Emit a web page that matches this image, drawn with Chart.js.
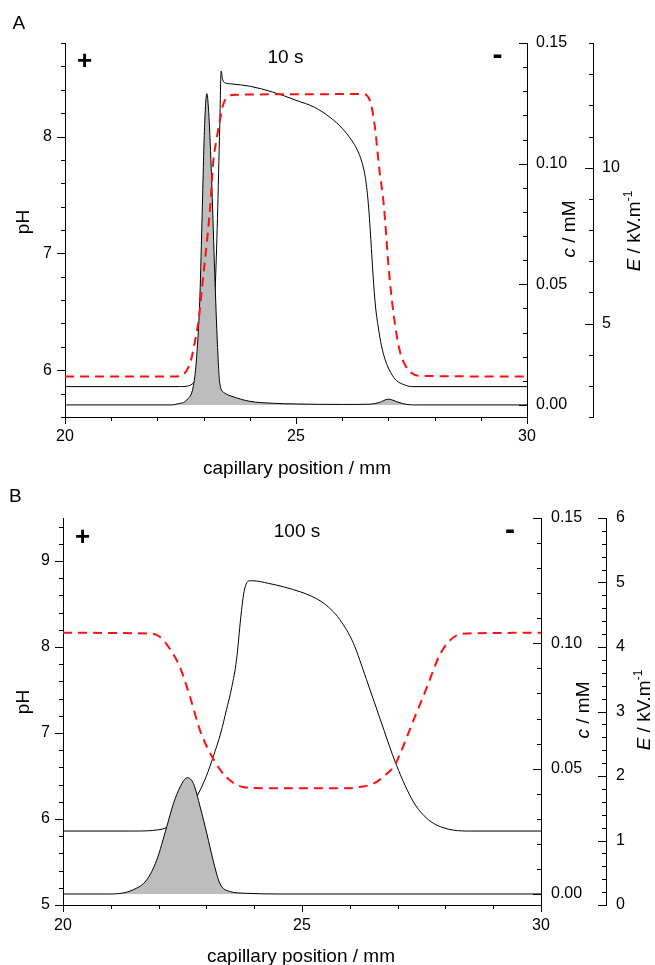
<!DOCTYPE html>
<html>
<head>
<meta charset="utf-8">
<script src="https://cdn.jsdelivr.net/npm/chart.js@4.4.1/dist/chart.umd.min.js"></script>
<style>
html,body{margin:0;padding:0;background:#fff;}
#wrap{position:relative;width:655px;height:965px;overflow:hidden;}
canvas{position:absolute;left:0;}
#cA{top:0;}
#cB{top:480px;}
</style>
</head>
<body>
<div id="wrap">
<canvas id="cA" width="655" height="480" style="width:655px;height:480px"></canvas>
<canvas id="cB" width="655" height="485" style="width:655px;height:485px"></canvas>
</div>
<script>
// ---------- DATA ----------
// Panel A (10 s)
const posA_pH = [20, 22.5, 22.7, 22.8, 22.9, 23.0, 23.1, 23.2, 23.25, 23.3, 23.35, 23.38, 23.41, 23.46, 23.6, 24.0, 24.5, 25.0, 25.4, 25.75, 26.0, 26.2, 26.32, 26.42, 26.5, 26.56, 26.62, 26.67, 26.72, 26.78, 26.85, 26.93, 27.05, 27.18, 27.35, 27.5, 30];
const pH_A    = [5.86, 5.86, 5.87, 5.9, 5.96, 6.05, 6.15, 6.35, 6.69, 7.3, 8.1, 8.56, 8.49, 8.46, 8.45, 8.43, 8.38, 8.31, 8.25, 8.16, 8.07, 7.97, 7.89, 7.79, 7.65, 7.45, 7.12, 6.80, 6.55, 6.37, 6.21, 6.09, 5.98, 5.91, 5.875, 5.86, 5.86];

const posA_E = [20, 22.4, 22.55, 22.71, 22.81, 22.9, 22.97, 23.07, 23.14, 23.21, 23.28, 23.35, 23.43, 23.52, 23.7, 26.45, 26.6, 26.7, 26.8, 26.9, 27.0, 27.05, 27.15, 27.25, 27.35, 27.47, 27.65, 30];
const E_A    = [3.30, 3.30, 3.35, 3.74, 4.4, 5.2, 6.2, 7.6, 8.7, 10.2, 10.9, 11.5, 12.05, 12.28, 12.34, 12.36, 12.15, 11.4, 10.0, 8.8, 6.9, 6.1, 4.9, 4.1, 3.7, 3.45, 3.32, 3.30];

const posA_c = [20, 22.3, 22.45, 22.63, 22.78, 22.85, 22.92, 22.97, 23.02, 23.07, 23.12, 23.18, 23.24, 23.3, 23.35, 23.45, 23.64, 24.0, 24.5, 25.0, 26.0, 26.6, 26.8, 27.0, 27.2, 27.4, 27.6, 30];
const c_A    = [0, 0, 0.0005, 0.002, 0.008, 0.02, 0.045, 0.08, 0.115, 0.129, 0.118, 0.09, 0.055, 0.025, 0.009, 0.005, 0.0034, 0.0015, 0.0007, 0.0004, 0.0002, 0.0003, 0.001, 0.0024, 0.0012, 0.0002, 0, 0];

// Panel B (100 s)
const posB_pH = [20, 21.5, 22.0, 22.17, 22.4, 22.6, 22.8, 23.0, 23.14, 23.3, 23.42, 23.53, 23.63, 23.72, 23.78, 23.83, 23.9, 23.97, 24.3, 24.61, 25.0, 25.2, 25.4, 25.6, 25.79, 26.07, 26.35, 26.63, 26.98, 27.33, 27.55, 27.75, 27.95, 28.17, 28.5, 30];
const pH_B    = [5.86, 5.86, 5.875, 5.9, 5.98, 6.08, 6.26, 6.5, 6.72, 7.0, 7.27, 7.53, 7.85, 8.35, 8.62, 8.73, 8.77, 8.77, 8.74, 8.70, 8.635, 8.59, 8.53, 8.44, 8.32, 8.05, 7.62, 7.17, 6.62, 6.2, 6.04, 5.95, 5.9, 5.87, 5.86, 5.86];

const posB_E = [20, 21.8, 22.0, 22.17, 22.45, 22.66, 22.87, 23.14, 23.42, 23.77, 24.2, 26.0, 26.21, 26.49, 26.77, 26.95, 27.05, 27.33, 27.61, 27.89, 28.17, 28.45, 30];
const E_B    = [4.22, 4.21, 4.17, 4.04, 3.68, 3.22, 2.70, 2.27, 1.98, 1.83, 1.81, 1.81, 1.83, 1.88, 2.03, 2.18, 2.34, 2.86, 3.37, 3.89, 4.15, 4.21, 4.22];

const posB_c = [20, 21.0, 21.47, 21.75, 21.96, 22.17, 22.31, 22.45, 22.6, 22.73, 22.87, 23.01, 23.14, 23.28, 23.49, 23.8, 24.5, 30];
const c_B    = [0, 0, 0.0017, 0.0056, 0.0135, 0.0268, 0.036, 0.0427, 0.0464, 0.044, 0.0347, 0.024, 0.0135, 0.0043, 0.001, 0.0003, 0, 0];

// Tick labels
const xTicks   = [20, 25, 30];
const pHTicksA = [6, 7, 8];
const pHTicksB = [5, 6, 7, 8, 9];
const cTicks   = [0, 0.05, 0.10, 0.15];
const ETicksA  = [5, 10];
const ETicksB  = [0, 1, 2, 3, 4, 5, 6];

// ---------- DRAWING ----------
const FONT = '"Liberation Sans", Arial, Helvetica, sans-serif';
const tickFont = {family: FONT, size: 16};

function pts(xs, ys) { return xs.map((x, i) => ({x: x, y: ys[i]})); }

function fontStr(p) {
  return (p.italic ? 'italic ' : '') + (p.bold ? 'bold ' : '') + p.size + 'px ' + FONT;
}

function drawParts(ctx, parts, cx, cy, rotate, align) {
  ctx.save();
  ctx.translate(cx, cy);
  if (rotate) ctx.rotate(-Math.PI / 2);
  ctx.fillStyle = '#000';
  ctx.textBaseline = 'alphabetic';
  ctx.textAlign = 'left';
  let total = 0;
  parts.forEach(p => { ctx.font = fontStr(p); p.w = ctx.measureText(p.t).width; total += p.w; });
  const base = parts[0].k * parts[0].size;
  let x = align === 'left' ? 0 : -total / 2;
  parts.forEach(p => { ctx.font = fontStr(p); ctx.fillText(p.t, x, base + (p.dy || 0)); x += p.w; });
  ctx.restore();
}

function drawTicks(chart, id, minor, major, lenMinor, lenMajor) {
  const s = chart.scales[id];
  const ctx = chart.ctx;
  const k0 = Math.ceil((s.min - 1e-9) / minor);
  const k1 = Math.floor((s.max + 1e-9) / minor);
  const every = Math.round(major / minor);
  ctx.save();
  ctx.strokeStyle = '#000';
  ctx.lineWidth = 1;
  ctx.beginPath();
  for (let k = k0; k <= k1; k++) {
    const v = k * minor;
    const len = (k % every === 0) ? lenMajor : lenMinor;
    const px = s.getPixelForValue(v);
    if (s.isHorizontal()) {
      const xx = Math.round(px) + 0.5, y0 = s.top;
      ctx.moveTo(xx, y0); ctx.lineTo(xx, y0 + len);
    } else {
      const yy = Math.round(px) + 0.5;
      const x0 = s.position === 'left' ? s.right : s.left;
      ctx.moveTo(x0, yy); ctx.lineTo(x0 - len, yy);
    }
  }
  ctx.stroke();
  ctx.restore();
}

function decor(p) {
  return {
    id: 'decor',
    afterDraw(chart) {
      const ctx = chart.ctx;
      drawTicks(chart, 'x', 1, 5, 4, 7);
      drawTicks(chart, 'yPH', 0.2, 1, 4, 8);
      drawTicks(chart, 'yC', 0.01, 0.05, 4, 8);
      drawTicks(chart, 'yE', p.eMinor, p.eMajor, 4, 8);
      p.texts.forEach(t => drawParts(ctx, t.parts, t.x, t.y, t.rot, t.align));
    }
  };
}

function yScale(pos, min, max, ticks, width, pad, fmt, weight) {
  return {
    type: 'linear', position: pos, min: min, max: max, bounds: 'data', weight: weight,
    grid: {display: false, drawTicks: false},
    border: {display: true, color: '#000', width: 1},
    ticks: {padding: pad, font: tickFont, color: '#000', autoSkip: false,
            callback: fmt || (v => String(v))},
    afterBuildTicks: s => { s.ticks = ticks.map(v => ({value: v})); },
    afterFit: s => { s.width = width; }
  };
}

function makeChart(id, p) {
  return new Chart(document.getElementById(id), {
    type: 'line',
    data: {
      datasets: [
        {data: pts(p.eX, p.eY), yAxisID: 'yE', borderColor: '#ff1010', borderWidth: 2,
         borderDash: [9, 6], fill: false, order: 0, cubicInterpolationMode: 'monotone', pointRadius: 0},
        {data: pts(p.cX, p.cY), yAxisID: 'yC', borderColor: '#000', borderWidth: 1,
         backgroundColor: '#bdbdbd', fill: 'origin', order: 1, cubicInterpolationMode: 'monotone', pointRadius: 0},
        {data: pts(p.phX, p.phY), yAxisID: 'yPH', borderColor: '#000', borderWidth: 1,
         fill: false, order: 2, cubicInterpolationMode: 'monotone', pointRadius: 0}
      ]
    },
    options: {
      responsive: false, animation: false, devicePixelRatio: 1, events: [],
      layout: {padding: {top: p.padTop, left: 0, right: 0, bottom: 0}},
      plugins: {legend: {display: false}, tooltip: {enabled: false}},
      scales: {
        x: {
          type: 'linear', position: 'bottom', min: 20, max: 30, bounds: 'data',
          grid: {display: false, drawTicks: false},
          border: {display: true, color: '#000', width: 1},
          ticks: {padding: p.xPad, font: tickFont, color: '#000', maxRotation: 0, autoSkip: false},
          afterBuildTicks: s => { s.ticks = xTicks.map(v => ({value: v})); },
          afterFit: s => { s.height = p.xH; }
        },
        yPH: yScale('left', p.phMin, p.phMax, p.phTicks, p.leftW, 13, null, 0),
        yC: yScale('right', p.cMin, 0.15, cTicks, p.cW, p.cPad, v => v.toFixed(2), 0),
        yE: yScale('right', p.eMin, p.eMax, p.eTicks, p.eW, p.ePad, null, 1)
      }
    },
    plugins: [decor(p)]
  });
}

function titles(pH, c, E, xt) {
  const S = 19;
  return [
    {x: pH[0], y: pH[1], rot: true, parts: [{t: 'pH', size: S, k: 0.358}]},
    {x: c[0], y: c[1], rot: true, parts: [{t: 'c', size: S, k: 0.358, italic: true}, {t: ' / mM', size: S}]},
    {x: E[0], y: E[1], rot: true, parts: [{t: 'E', size: S, k: 0.358, italic: true}, {t: ' / kV.m', size: S}, {t: '-1', size: 12, dy: -8}]},
    {x: xt[0], y: xt[1], rot: false, parts: [{t: 'capillary position / mm', size: S, k: 0.358}]}
  ];
}

makeChart('cA', {
  phX: posA_pH, phY: pH_A, eX: posA_E, eY: E_A, cX: posA_c, cY: c_A,
  padTop: 43, xH: 63, xPad: 10, leftW: 65, cW: 66, eW: 62, cPad: 9, ePad: 9,
  phMin: 5.6, phMax: 8.8, phTicks: pHTicksA, cMin: -0.005, eMin: 2, eMax: 14, eTicks: ETicksA,
  eMinor: 1, eMajor: 5,
  texts: titles([22.5, 222], [568, 229], [633, 231], [297, 467]).concat([
    {x: 12.5, y: 22.5, rot: false, align: 'left', parts: [{t: 'A', size: 19, k: 0.358}]},
    {x: 84.5, y: 60, rot: false, parts: [{t: '+', size: 26, k: 0.353, bold: true}]},
    {x: 285.5, y: 56, rot: false, parts: [{t: '10 s', size: 19, k: 0.358}]},
    {x: 497.5, y: 56, rot: false, parts: [{t: '-', size: 30, k: 0.265, bold: true}]}
  ])
});

makeChart('cB', {
  phX: posB_pH, phY: pH_B, eX: posB_E, eY: E_B, cX: posB_c, cY: c_B,
  padTop: 38, xH: 60, xPad: 11, leftW: 63, cW: 65, eW: 49, cPad: 10, ePad: 10,
  phMin: 5, phMax: 9.5, phTicks: pHTicksB, cMin: -0.0044, eMin: 0, eMax: 6, eTicks: ETicksB,
  eMinor: 0.2, eMajor: 1,
  texts: titles([22.5, 222], [582, 230], [643, 230], [301, 475]).concat([
    {x: 9, y: 15, rot: false, align: 'left', parts: [{t: 'B', size: 19, k: 0.358}]},
    {x: 82.5, y: 55.5, rot: false, parts: [{t: '+', size: 26, k: 0.353, bold: true}]},
    {x: 297, y: 50, rot: false, parts: [{t: '100 s', size: 19, k: 0.358}]},
    {x: 510, y: 51, rot: false, parts: [{t: '-', size: 30, k: 0.265, bold: true}]}
  ])
});
</script>
</body>
</html>
